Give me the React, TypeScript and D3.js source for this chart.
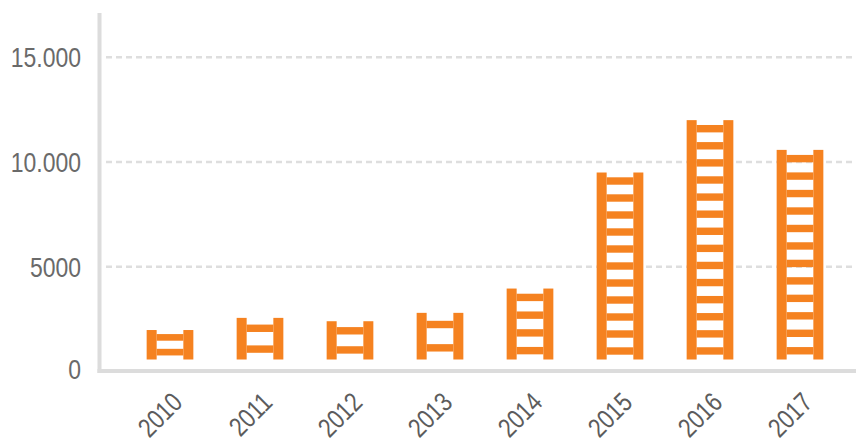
import React from 'react';
import * as d3 from 'd3';

const years = ['2010', '2011', '2012', '2013', '2014', '2015', '2016', '2017'];
const values = [1980, 2560, 2400, 2800, 3960, 9500, 12000, 10580];
const yTicks = [0, 5000, 10000, 15000];
const yTickLabels = ['0', '5000', '10.000', '15.000'];

const W = 856;
const H = 446;
const ORANGE = '#f58220';
const AXIS = '#dcdcdc';
const GRID = '#dedede';
const TEXT = '#6a6a6a';
const XTEXT = '#5c5c5c';
const FONT = '"Liberation Sans", Arial, sans-serif';
const NARROW = 0.82;

export default function App() {
  const x = d3.scaleBand<string>().domain(years).range([125, 845]).padding(0);
  const y = d3.scaleLinear().domain([0, 15000]).range([371.5, 57.3]);

  const ladderW = 46.7;
  const railW = 10;
  const basePad = 12;
  const unitNominal = 17.1;

  const ladders = years.map((yr, i) => {
    const cx = (x(yr) as number) + x.bandwidth() / 2;
    const x0 = cx - ladderW / 2;
    const x1 = cx + ladderW / 2;
    const top = y(values[i]);
    const bottom = y(0) - basePad;
    const h = bottom - top;
    const n = Math.max(2, Math.floor(h / unitNominal + 0.25));
    const u = h / n;
    const t = Math.min(7.4, 0.45 * u);
    const rungs = d3.range(n).map((k) => top + u * (k + 0.5) - t / 2);
    return (
      <g key={yr}>
        <rect x={x0} y={top} width={railW} height={h} fill={ORANGE} />
        <rect x={x1 - railW} y={top} width={railW} height={h} fill={ORANGE} />
        {rungs.map((ry, k) => (
          <rect key={k} x={x0 + railW} y={ry} width={ladderW - 2 * railW} height={t} fill={ORANGE} />
        ))}
      </g>
    );
  });

  return (
    <svg
      width={W}
      height={H}
      style={{ position: 'absolute', left: 0, top: 0, background: '#fff' }}
    >
      {yTicks.filter((v) => v > 0).map((v) => (
        <line
          key={'g' + v}
          x1={106}
          x2={W}
          y1={y(v)}
          y2={y(v)}
          stroke={GRID}
          strokeWidth={2.6}
          strokeDasharray="6 4"
        />
      ))}
      {yTicks.map((v, i) => (
        <text
          key={'t' + v}
          transform={`translate(81,${y(v) - (v === 0 ? 3 : 0)}) scale(${NARROW},1)`}
          dy="0.36em"
          textAnchor="end"
          fontFamily={FONT}
          fontSize={28}
          fill={TEXT}
        >
          {yTickLabels[i]}
        </text>
      ))}
      <line x1={99.5} x2={99.5} y1={13} y2={373} stroke={AXIS} strokeWidth={4} />
      <line x1={97.5} x2={W} y1={371} y2={371} stroke={AXIS} strokeWidth={4} />
      {ladders}
      {years.map((yr) => {
        const cx = (x(yr) as number) + x.bandwidth() / 2;
        return (
          <text
            key={'x' + yr}
            transform={`translate(${cx + 14},${404}) rotate(-45) scale(${NARROW},1)`}
            textAnchor="end"
            fontFamily={FONT}
            fontSize={27}
            fill={XTEXT}
          >
            {yr}
          </text>
        );
      })}
    </svg>
  );
}
